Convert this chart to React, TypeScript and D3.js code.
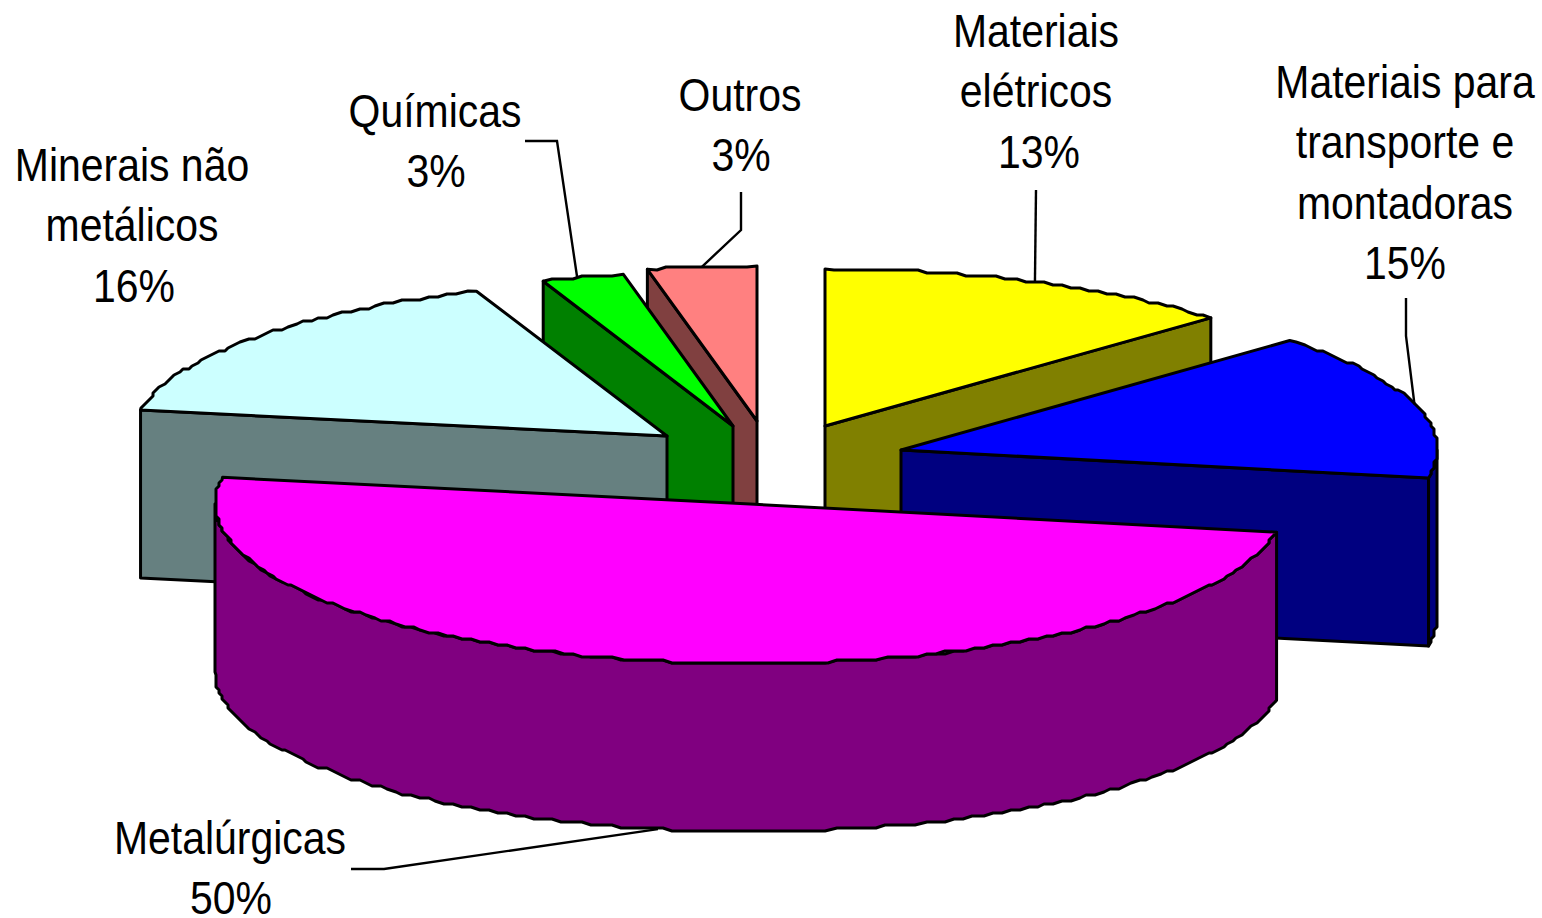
import React from "react";
import * as d3 from "d3";

const categories = ["Materiais elétricos", "Materiais para transporte e montadoras", "Metalúrgicas", "Minerais não metálicos", "Químicas", "Outros"];
const shares = [12.9, 14.9, 49.8, 16.5, 2.5, 3.3];
const percentLabels = ["13%", "15%", "50%", "16%", "3%", "3%"];

const topColors = ["#FFFF00", "#0000FF", "#FF00FF", "#CCFFFF", "#00FF00", "#FF8080"];
const wallColors = ["#808000", "#000080", "#800080", "#668080", "#008000", "#804040"];

const W = 1542, H = 918, DEPTH = 168;
// exploded apex of every slice and its projected radii
const layout = [
  { ax: 825, ay: 426, rx: 532, ry: 157 },
  { ax: 901, ay: 450, rx: 536, ry: 159 },
  { ax: 750, ay: 504, rx: 535, ry: 159.5 },
  { ax: 667, ay: 436, rx: 534, ry: 155 },
  { ax: 733, ay: 426, rx: 532, ry: 155 },
  { ax: 757, ay: 421, rx: 532, ry: 155 },
];
// label blocks: centre x, first baseline, lines, horizontal nudge of the percent line
const labelBlocks = [
  { cx: 1036, y: 47, lines: ["Materiais", "elétricos"], pctDx: 3 },
  { cx: 1405, y: 98, lines: ["Materiais para", "transporte e", "montadoras"], pctDx: 0 },
  { cx: 230, y: 854, lines: ["Metalúrgicas"], pctDx: 1 },
  { cx: 132, y: 181, lines: ["Minerais não", "metálicos"], pctDx: 2 },
  { cx: 435, y: 127, lines: ["Químicas"], pctDx: 1 },
  { cx: 740, y: 111, lines: ["Outros"], pctDx: 1 },
];
// elbow points of each leader and where along the slice's rim it lands
const leaderElbows: number[][][] = [
  [[1036, 190]],
  [[1406, 298], [1406, 336]],
  [[351, 869], [384, 869]],
  [],
  [[525, 141], [557, 141]],
  [[741, 192], [741, 230]],
];
const leaderFractions = [0.5, 0.5, 0.5, 0.5, 0.43, 0.5];
const drawOrder = [5, 4, 3, 0, 1, 2];
const LINE_H = 60.3, FONT = 46, SQUEEZE = 0.89, GRID = 3;

type P = [number, number];
const pie = d3.pie<number>().sort(null).startAngle(0).endAngle(2 * Math.PI);
const arcs = pie(shares);
const line = d3.line<P>().curve(d3.curveLinear);

function at(i: number, t: number, dy = 0): P {
  const l = layout[i];
  return [l.ax + l.rx * Math.sin(t), l.ay - l.ry * Math.cos(t) + dy];
}
function rim(i: number, a0: number, a1: number, dy = 0): P[] {
  const n = Math.max(2, Math.round(Math.abs(a1 - a0) / (1.1 * Math.PI / 180)));
  const ts = d3.range(n + 1).map((k) => a0 + ((a1 - a0) * k) / n);
  return ts.map((t, k) => {
    const p = at(i, t, dy);
    if (k === 0 || k === n) return p;
    return [Math.round(p[0] / GRID) * GRID, Math.round(p[1] / GRID) * GRID] as P;
  });
}

function Slice({ i }: { i: number }) {
  const a = arcs[i];
  const l = layout[i];
  const apex: P = [l.ax, l.ay];
  const apexB: P = [l.ax, l.ay + DEPTH];
  const cut = a.endAngle <= Math.PI ? a.endAngle : a.startAngle;
  const c = at(i, cut);
  const cB = at(i, cut, DEPTH);
  const v0 = Math.max(a.startAngle, Math.PI / 2);
  const v1 = Math.min(a.endAngle, (3 * Math.PI) / 2);
  const stroke = { stroke: "#000", strokeWidth: 3, strokeLinejoin: "round" as const };
  const isHalf = a.endAngle - a.startAngle > 3;
  return (
    <g>
      {!isHalf && (
        <path d={line([apex, c, cB, apexB])! + "Z"} fill={wallColors[i]} {...stroke} />
      )}
      {v1 > v0 && (
        <path
          d={line([...rim(i, v0, v1), ...rim(i, v1, v0, DEPTH)])! + "Z"}
          fill={wallColors[i]}
          {...stroke}
        />
      )}
      <path
        d={line([apex, ...rim(i, a.startAngle, a.endAngle)])! + "Z"}
        fill={topColors[i]}
        {...stroke}
      />
    </g>
  );
}

function Leader({ i }: { i: number }) {
  const elbows = leaderElbows[i] as P[];
  if (!elbows.length) return null;
  const a = arcs[i];
  const t = a.startAngle + (a.endAngle - a.startAngle) * leaderFractions[i];
  const end = at(i, t, t > Math.PI / 2 && t < (3 * Math.PI) / 2 ? DEPTH : 0);
  return <path d={line([...elbows, end])!} fill="none" stroke="#000" strokeWidth={2.4} />;
}

function Label({ i }: { i: number }) {
  const b = labelBlocks[i];
  const lines = [...b.lines, percentLabels[i]];
  return (
    <g>
      {lines.map((t, k) => (
        <text
          key={k}
          transform={`translate(${b.cx + (k === lines.length - 1 ? b.pctDx : 0)},${b.y + k * LINE_H}) scale(${SQUEEZE},1)`}
          textAnchor="middle"
          fontFamily="'Liberation Sans', Arial, sans-serif"
          fontSize={FONT}
          fill="#000"
        >
          {t}
        </text>
      ))}
    </g>
  );
}

export default function App() {
  return (
    <svg
      width={W}
      height={H}
      viewBox={`0 0 ${W} ${H}`}
      style={{ position: "fixed", left: 0, top: 0, display: "block", background: "#fff" }}
      aria-label={categories.join(", ")}
    >
      {drawOrder.map((i) => (
        <Slice key={i} i={i} />
      ))}
      {categories.map((_, i) => (
        <Leader key={i} i={i} />
      ))}
      {categories.map((_, i) => (
        <Label key={i} i={i} />
      ))}
    </svg>
  );
}
